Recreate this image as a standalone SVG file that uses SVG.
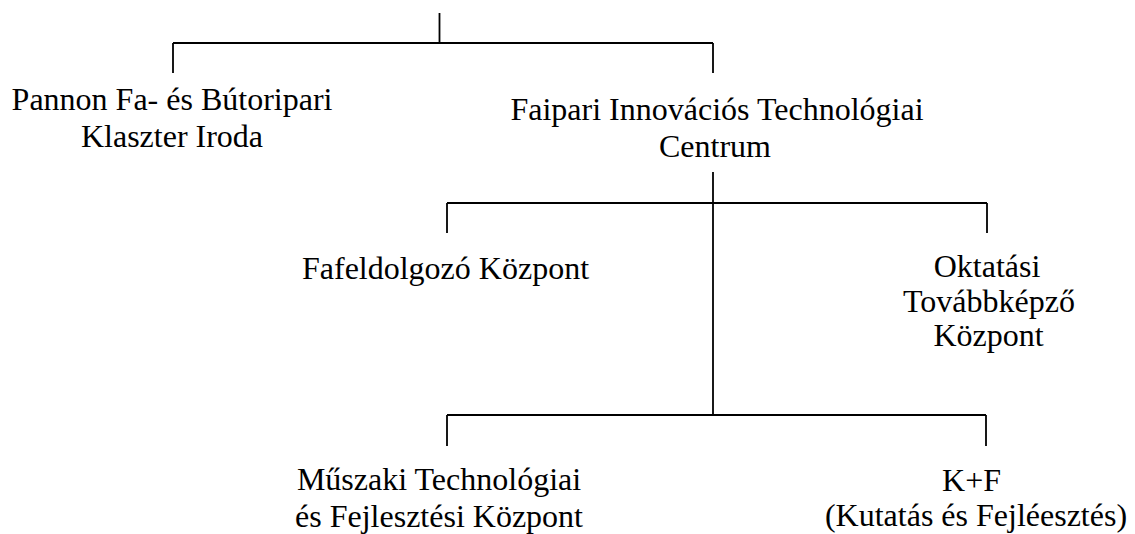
<svg xmlns="http://www.w3.org/2000/svg" width="1135" height="534" viewBox="0 0 1135 534">
<style>
.c{fill:none;stroke:#000;stroke-width:1.8;stroke-linecap:butt}
text{font-family:'Liberation Serif','Times New Roman',serif;font-size:32px;fill:#000;text-anchor:middle}
</style>
<rect width="1135" height="534" fill="#fff"/>
<g id="connectors">
<path class="c" d="M439.5 13V43M173 43H713M173 43V73M713 43V73"/>
<path class="c" d="M713 172V415"/>
<path class="c" d="M447 203H987M447 203V233M987 203V233"/>
<path class="c" d="M447 415H986M447 415V446M986 415V446"/>
</g>
<g id="pannon"><text x="172" y="110">Pannon Fa- és Bútoripari</text><text x="172" y="147">Klaszter Iroda</text></g>
<g id="faipari"><text x="717" y="120">Faipari Innovációs Technológiai</text><text x="715" y="157">Centrum</text></g>
<g id="fafeldolgozo"><text x="445.5" y="279">Fafeldolgozó Központ</text></g>
<g id="oktatasi"><text x="987" y="277">Oktatási</text><text x="989" y="312">Továbbképző</text><text x="988.5" y="346">Központ</text></g>
<g id="muszaki"><text x="439" y="490">Műszaki Technológiai</text><text x="439" y="527">és Fejlesztési Központ</text></g>
<g id="kf"><text x="971.5" y="491">K+F</text><text x="976" y="526">(Kutatás és Fejléesztés)</text></g>
</svg>
